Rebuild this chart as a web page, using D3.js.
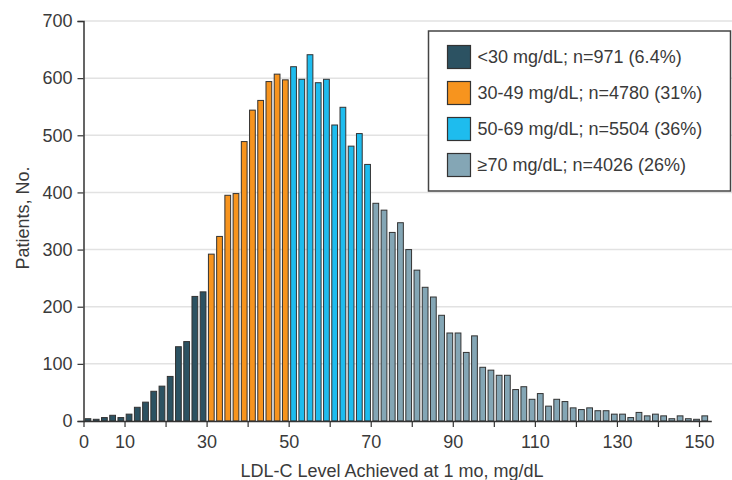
<!DOCTYPE html>
<html>
<head>
<meta charset="utf-8">
<script src="https://cdn.jsdelivr.net/npm/d3@7"></script>
<style>
  html, body { margin: 0; padding: 0; background: #fff; }
  svg { display: block; }
  text { font-family: "Liberation Sans", Arial, sans-serif; fill: #3a3a3a; }
</style>
</head>
<body>
<svg id="chart" width="732" height="480"></svg>
<script>
// Bin start values (2 mg/dL bins)
const bins = d3.range(0, 152, 2);
// Patients per bin
const counts = [
  4, 3, 6, 10, 6, 12, 24, 33, 52, 61, 78, 130, 139, 218, 226,           // 0-28
  292, 323, 395, 398, 489, 544, 561, 594, 607, 597,                     // 30-48
  620, 598, 641, 592, 598, 518, 549, 481, 503, 449,                     // 50-68
  381, 369, 330, 347, 300, 264, 234, 217, 185, 154, 154, 120, 149, 94,  // 70-96
  89, 80, 80, 55, 60, 38, 48, 26, 38, 34, 23, 20, 23, 18, 18, 12,       // 98-128
  12, 6, 15, 9, 12, 9, 4, 9, 4, 3, 9                                    // 130-150
];
const groupNames = ["<30 mg/dL; n=971 (6.4%)", "30-49 mg/dL; n=4780 (31%)", "50-69 mg/dL; n=5504 (36%)", "\u226570 mg/dL; n=4026 (26%)"];
const groupBreaks = [30, 50, 70];
const groupColors = ["#2c5262", "#f7941e", "#1ebcee", "#84a6b5"];
const yTicks = [0, 100, 200, 300, 400, 500, 600, 700];
const xTicks = d3.range(0, 151, 10);
const xTickLabels = [0, 10, 30, 50, 70, 90, 110, 130, 150];

const svg = d3.select("#chart");

const y = d3.scaleLinear().domain([0, 700]).range([421, 21]);
const x = d3.scaleLinear().domain([0, 153]).range([83.5, 711.3]);
const xb = d3.scaleBand().domain(bins).range([82.6, 710.1]).padding(0.3);
const group = d3.scaleThreshold().domain(groupBreaks).range([0, 1, 2, 3]);

// gridlines
svg.append("g").selectAll("line").data(yTicks.filter(d => d > 0)).join("line")
  .attr("x1", 84).attr("x2", 732)
  .attr("y1", d => y(d)).attr("y2", d => y(d))
  .attr("stroke", "#e2e2e2").attr("stroke-width", 1.5);

// bars
svg.append("g").selectAll("rect").data(bins).join("rect")
  .attr("x", d => xb(d))
  .attr("width", xb.bandwidth())
  .attr("y", (d, i) => y(counts[i]))
  .attr("height", (d, i) => y(0) - y(counts[i]))
  .attr("fill", d => groupColors[group(d)])
  .attr("stroke", "#333").attr("stroke-width", 1);

// y axis
const yAxis = svg.append("g").attr("transform", "translate(83.5,0)")
  .call(d3.axisLeft(y).tickValues(yTicks).tickSize(6).tickPadding(5));
yAxis.select(".domain").attr("stroke", "#333").attr("stroke-width", 1.5);
yAxis.selectAll(".tick line").attr("stroke", "#333").attr("stroke-width", 1.2);
yAxis.selectAll("text").style("font-size", "18px").style("fill", "#3a3a3a")
  .style("font-family", "'Liberation Sans', Arial, sans-serif");

// x axis
const xAxis = svg.append("g").attr("transform", "translate(0,421)")
  .call(d3.axisBottom(x).tickValues(xTicks).tickSize(6).tickSizeOuter(0).tickPadding(8)
    .tickFormat(d => xTickLabels.includes(d) ? d : ""));
xAxis.select(".domain").attr("stroke", "#333").attr("stroke-width", 1.5);
xAxis.selectAll(".tick line").attr("stroke", "#333").attr("stroke-width", 1.2);
xAxis.selectAll("text").style("font-size", "18px").style("fill", "#3a3a3a")
  .style("font-family", "'Liberation Sans', Arial, sans-serif");

// axis titles
svg.append("text")
  .attr("transform", "translate(29,218) rotate(-90)")
  .attr("text-anchor", "middle")
  .style("font-size", "18px")
  .text("Patients, No.");
svg.append("text")
  .attr("x", 392).attr("y", 477)
  .attr("text-anchor", "middle")
  .style("font-size", "18px")
  .text("LDL-C Level Achieved at 1 mo, mg/dL");

// legend
const lg = svg.append("g");
lg.append("rect").attr("x", 428.5).attr("y", 31).attr("width", 302).attr("height", 160)
  .attr("fill", "#fff").attr("stroke", "#444").attr("stroke-width", 1.5);
const ly = d3.scaleBand().domain(d3.range(groupNames.length)).range([39, 183]);
const rows = lg.selectAll("g.row").data(groupNames).join("g").attr("class", "row")
  .attr("transform", (d, i) => `translate(447.5,${ly(i) + ly.bandwidth() / 2})`);
rows.append("rect").attr("x", 0).attr("y", -11.5).attr("width", 23).attr("height", 23)
  .attr("fill", (d, i) => groupColors[i]).attr("stroke", "#333").attr("stroke-width", 1.2);
rows.append("text").attr("x", 30).attr("dy", "0.36em")
  .style("font-size", "18px")
  .text(d => d);
</script>
</body>
</html>
